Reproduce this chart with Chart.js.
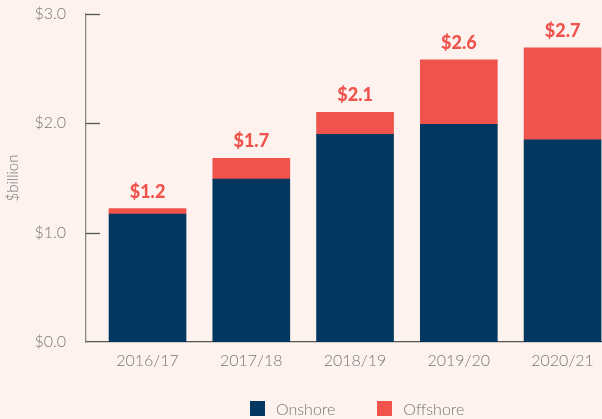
<!DOCTYPE html>
<html>
<head>
<meta charset="utf-8">
<script src="https://cdn.jsdelivr.net/npm/chart.js@4/dist/chart.umd.min.js"></script>
<style>
  body { margin: 0; background: #fdf2ee; }
  #wrap { position: relative; width: 602px; height: 419px; }
  #legend { position: absolute; left: 250px; top: 399px; display: flex; font: 300 16px Lato, sans-serif; color: #777; }
  #legend span.item { display: flex; align-items: center; margin-right: 42px; }
  #legend i { display: inline-block; width: 15px; height: 15px; margin-right: 11px; }
</style>
</head>
<body>
<div id="wrap">
  <canvas id="chart"></canvas>
  <div id="legend"></div>
</div>
<script>
const years = ["2016/17", "2017/18", "2018/19", "2019/20", "2020/21"];
const onshore = [1.17, 1.49, 1.90, 1.99, 1.85];
const offshore = [0.05, 0.19, 0.20, 0.59, 0.84];
const totalLabels = ["$1.2", "$1.7", "$2.1", "$2.6", "$2.7"];
const yTicks = [0, 1, 2, 3];

const navy = "#02375f";
const red = "#f0524c";
const grey = "#777";

// short tick marks inside the y axis + totals above the bars
const extras = {
  id: "extras",
  afterDatasetsDraw(chart) {
    const ctx = chart.ctx;
    const y = chart.scales.y;
    const left = chart.chartArea.left;
    ctx.save();
    ctx.strokeStyle = "#555";
    ctx.lineWidth = 1.3;
    yTicks.forEach(v => {
      if (v === 0) return;
      const py = Math.round(y.getPixelForValue(v)) + 0.5;
      ctx.beginPath();
      ctx.moveTo(left, py);
      ctx.lineTo(left + 14, py);
      ctx.stroke();
    });
    const meta = chart.getDatasetMeta(1);
    ctx.fillStyle = red;
    ctx.font = "900 18px Lato";
    ctx.textAlign = "center";
    ctx.textBaseline = "alphabetic";
    meta.data.forEach((bar, i) => {
      ctx.fillText(totalLabels[i], bar.x, bar.y - 11);
    });
    ctx.restore();
  }
};

const data = {
  datasets: [
    { label: "Onshore", backgroundColor: navy, data: onshore.map((v, i) => ({ x: i, y: v })) },
    { label: "Offshore", backgroundColor: red, data: offshore.map((v, i) => ({ x: i, y: v })) }
  ]
};

const config = {
  type: "bar",
  data: data,
  options: {
    responsive: true,
    maintainAspectRatio: false,
    animation: false,
    layout: { padding: { top: 14, right: 0, left: 0, bottom: 0 } },
    plugins: { legend: { display: false }, tooltip: { enabled: false } },
    datasets: { bar: { barThickness: 77 } },
    scales: {
      x: {
        type: "linear",
        stacked: true,
        offset: false,
        min: -0.593,
        max: 4.38,
        grid: { display: false },
        border: { color: "#555", width: 1.3 },
        ticks: {
          stepSize: 1,
          includeBounds: false,
          padding: 1,
          color: grey,
          font: { family: "Lato", size: 16, weight: 300 },
          callback: v => years[v] ?? ""
        },
        afterFit: s => { s.height = 77; }
      },
      y: {
        stacked: true,
        min: 0,
        max: 3,
        grid: { display: false, drawTicks: false },
        border: { color: "#8a8585", width: 1.3 },
        ticks: {
          stepSize: 1,
          padding: 20,
          color: grey,
          font: { family: "Lato", size: 16, weight: 300 },
          callback: v => "$" + v.toFixed(1)
        },
        title: {
          display: true,
          text: "$billion",
          color: grey,
          font: { family: "Lato", size: 15, weight: 300 },
          padding: { top: 4, bottom: 0 }
        },
        afterFit: s => {
          s.width = 86;
          // tick padding is horizontal here, don't let it push the chart area down
          s.paddingTop = 10;
          s.paddingBottom = 10;
        }
      }
    }
  },
  plugins: [extras]
};

const chart = new Chart(document.getElementById("chart"), config);

const legend = document.getElementById("legend");
chart.data.datasets.forEach(ds => {
  const item = document.createElement("span");
  item.className = "item";
  item.innerHTML = '<i style="background:' + ds.backgroundColor + '"></i>' + ds.label;
  legend.appendChild(item);
});
</script>
</body>
</html>
